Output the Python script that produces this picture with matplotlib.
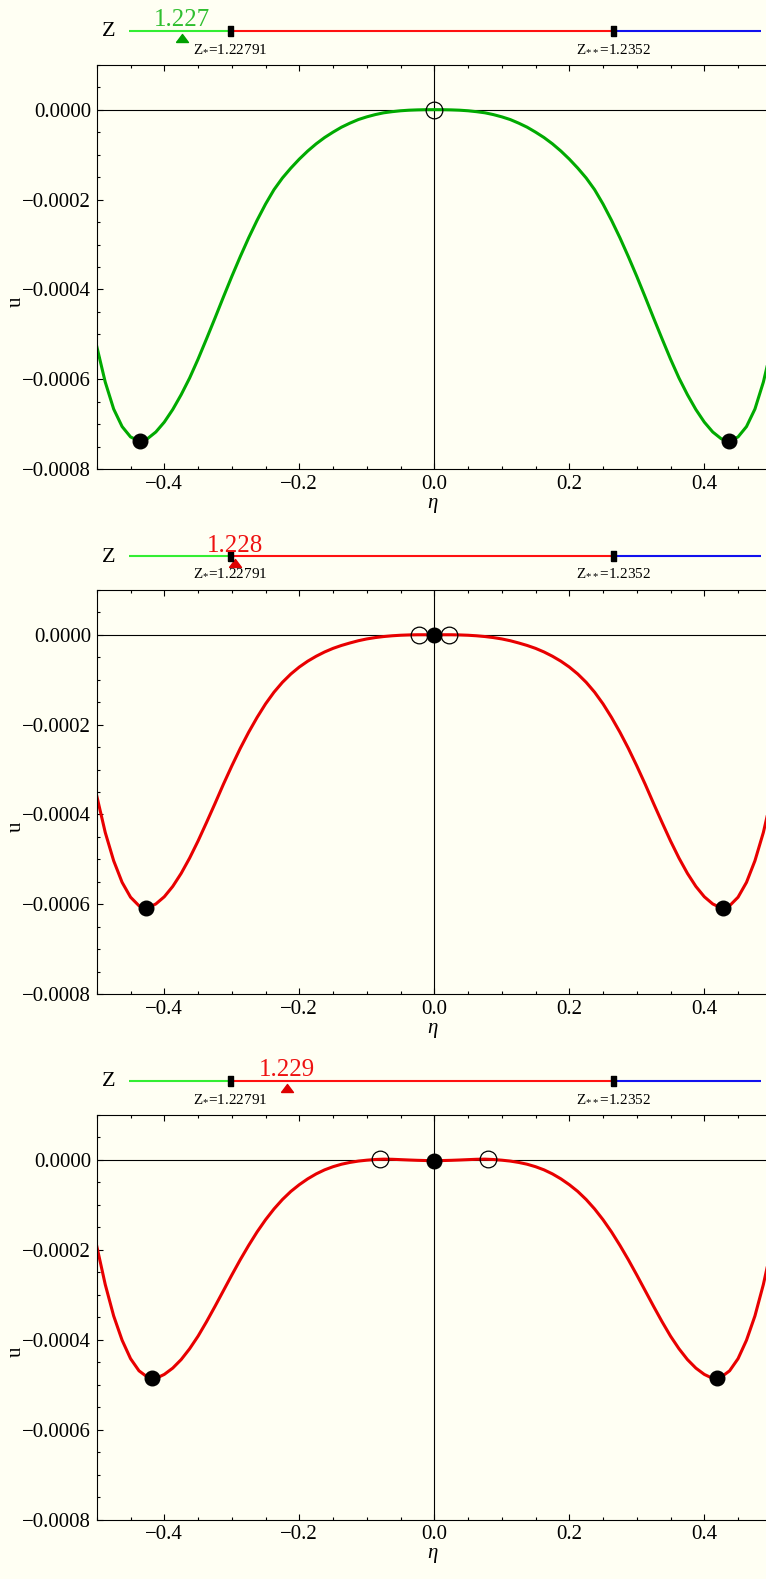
import matplotlib
matplotlib.use('Agg')
import matplotlib.pyplot as plt
from matplotlib.ticker import MultipleLocator

plt.rcParams['font.family'] = ['Liberation Serif', 'DejaVu Serif']
plt.rcParams['mathtext.fontset'] = 'custom'
plt.rcParams['mathtext.rm'] = 'Liberation Serif'
plt.rcParams['mathtext.it'] = 'Liberation Serif:italic'
plt.rcParams['axes.unicode_minus'] = True

# ---------------- data ----------------
z_values = [1.227, 1.228, 1.229]
z_labels = ['1.227', '1.228', '1.229']
z_min, z_max = 1.226, 1.238
z_star, z_2star = 1.22791, 1.2352
z_star_label = r'$\mathrm{Z}_{*}$=1.22791'
z_2star_label = r'$\mathrm{Z}_{**}$=1.2352'

# u values are given in units of 1e-4
x_ticks = [-0.4, -0.2, 0.0, 0.2, 0.4]
x_ticklabels = ['\u22120.4', '\u22120.2', '0.0', '0.2', '0.4']
y_ticks = [0.0, -2.0, -4.0, -6.0, -8.0]
y_ticklabels = ['0.0000', '\u22120.0002', '\u22120.0004', '\u22120.0006', '\u22120.0008']

eta = [-0.5, -0.4875, -0.475, -0.4625, -0.45, -0.4375, -0.425, -0.4125, -0.4, -0.3875,
       -0.375, -0.3625, -0.35, -0.3375, -0.325, -0.3125, -0.3, -0.2875, -0.275, -0.2625,
       -0.25, -0.2375, -0.225, -0.2125, -0.2, -0.1875, -0.175, -0.1625, -0.15, -0.1375,
       -0.125, -0.1125, -0.1, -0.0875, -0.075, -0.0625, -0.05, -0.0375, -0.025, -0.0125,
       0.0,
       0.0125, 0.025, 0.0375, 0.05, 0.0625, 0.075, 0.0875, 0.1, 0.1125, 0.125,
       0.1375, 0.15, 0.1625, 0.175, 0.1875, 0.2, 0.2125, 0.225, 0.2375, 0.25,
       0.2625, 0.275, 0.2875, 0.3, 0.3125, 0.325, 0.3375, 0.35, 0.3625, 0.375,
       0.3875, 0.4, 0.4125, 0.425, 0.4375, 0.45, 0.4625, 0.475, 0.4875, 0.5]

# panel 1 : Z = 1.227
u1 = [-5.27, -6.06, -6.66, -7.05, -7.28, -7.37, -7.32, -7.17, -6.95, -6.67,
      -6.34, -5.97, -5.55, -5.10, -4.64, -4.17, -3.71, -3.27, -2.85, -2.46,
      -2.10, -1.78, -1.52, -1.30, -1.10, -0.92, -0.76, -0.62, -0.50, -0.39,
      -0.30, -0.22, -0.16, -0.11, -0.07, -0.045, -0.025, -0.012, -0.005, -0.001,
      0.0,
      -0.001, -0.005, -0.012, -0.025, -0.045, -0.07, -0.11, -0.16, -0.22, -0.30,
      -0.39, -0.50, -0.62, -0.76, -0.92, -1.10, -1.30, -1.52, -1.78, -2.10,
      -2.46, -2.85, -3.27, -3.71, -4.17, -4.64, -5.10, -5.55, -5.97, -6.34,
      -6.67, -6.95, -7.17, -7.32, -7.37, -7.28, -7.05, -6.66, -6.06, -5.27]
min_eta1 = [-0.436, 0.436]
min_u1 = [-7.37, -7.37]
max_eta1 = [0.0]
max_u1 = [0.0]

# panel 2 : Z = 1.228
u2 = [-3.59, -4.40, -5.03, -5.51, -5.84, -6.03, -6.08, -5.99, -5.83, -5.60,
      -5.31, -4.97, -4.59, -4.18, -3.76, -3.33, -2.92, -2.53, -2.17, -1.84,
      -1.54, -1.28, -1.06, -0.875, -0.72, -0.59, -0.48, -0.385, -0.305, -0.24,
      -0.185, -0.135, -0.095, -0.065, -0.042, -0.025, -0.013, -0.006, -0.002, -0.002,
      -0.004,
      -0.002, -0.002, -0.006, -0.013, -0.025, -0.042, -0.065, -0.095, -0.135, -0.185,
      -0.24, -0.305, -0.385, -0.48, -0.59, -0.72, -0.875, -1.06, -1.28, -1.54,
      -1.84, -2.17, -2.53, -2.92, -3.33, -3.76, -4.18, -4.59, -4.97, -5.31,
      -5.60, -5.83, -5.99, -6.08, -6.03, -5.84, -5.51, -5.03, -4.40, -3.59]
min_eta2 = [-0.4276, 0.0, 0.4276]
min_u2 = [-6.09, -0.004, -6.09]
max_eta2 = [-0.022, 0.022]
max_u2 = [0.0, 0.0]

# panel 3 : Z = 1.229
u3 = [-1.92, -2.77, -3.47, -4.01, -4.42, -4.69, -4.83, -4.86, -4.77, -4.63,
      -4.44, -4.20, -3.92, -3.60, -3.26, -2.91, -2.56, -2.22, -1.90, -1.60,
      -1.33, -1.09, -0.88, -0.70, -0.55, -0.42, -0.31, -0.22, -0.15, -0.095,
      -0.055, -0.025, -0.005, 0.01, 0.018, 0.015, 0.007, -0.001, -0.008, -0.013,
      -0.016,
      -0.013, -0.008, -0.001, 0.007, 0.015, 0.018, 0.01, -0.005, -0.025, -0.055,
      -0.095, -0.15, -0.22, -0.31, -0.42, -0.55, -0.70, -0.88, -1.09, -1.33,
      -1.60, -1.90, -2.22, -2.56, -2.91, -3.26, -3.60, -3.92, -4.20, -4.44,
      -4.63, -4.77, -4.86, -4.83, -4.69, -4.42, -4.01, -3.47, -2.77, -1.92]
min_eta3 = [-0.4182, 0.0, 0.4182]
min_u3 = [-4.86, -0.02, -4.86]
max_eta3 = [-0.08, 0.08]
max_u3 = [0.02, 0.02]

panels = [
    (u1, min_eta1, min_u1, max_eta1, max_u1, '#00aa00'),
    (u2, min_eta2, min_u2, max_eta2, max_u2, '#e80000'),
    (u3, min_eta3, min_u3, max_eta3, max_u3, '#e80000'),
]

seg_bounds = [z_min, z_star, z_2star, z_max]
seg_colors = ['#33ee33', '#ff1111', '#1111ee']

# ---------------- layout ----------------
W, H = 766, 1579
BG = '#FFFFF3'
fig = plt.figure(figsize=(W / 100, H / 100), dpi=100, facecolor=BG)

def fy(py):
    return 1 - py / H

ax_left, ax_w, ax_h = 96.8, 675.0, 404.6
panel_tops = [64.7, 589.7, 1115.0]
slider_y = [31.0, 556.0, 1081.0]
sl_left, sl_w = 129.3, 631.4

rect_marker = [(-0.5, -1), (0.5, -1), (0.5, 1), (-0.5, 1), (-0.5, -1)]
tri_marker = [(-1, -0.67), (1, -0.67), (0, 0.67), (-1, -0.67)]

for i, (u, mne, mnu, mxe, mxu, col) in enumerate(panels):
    top = panel_tops[i]
    ax = fig.add_axes([ax_left / W, fy(top + ax_h), ax_w / W, ax_h / H])
    ax.set_facecolor(BG)
    ax.set_xlim(-0.5, 0.5)
    ax.set_ylim(-8.0, 1.0)
    ax.axhline(0, color='black', lw=0.8, zorder=1)
    ax.axvline(0, color='black', lw=0.8, zorder=1)
    ax.plot(eta, u, color=col, lw=2.2, zorder=2, solid_joinstyle='round')
    ax.plot(mne, mnu, 'o', color='black', ms=10.5, zorder=4)
    ax.plot(mxe, mxu, 'o', mfc='none', mec='black', mew=0.9, ms=12, zorder=4)

    ax.set_xticks(x_ticks)
    ax.set_xticklabels(x_ticklabels)
    ax.set_yticks(y_ticks)
    ax.set_yticklabels(y_ticklabels)
    ax.xaxis.set_minor_locator(MultipleLocator(0.05))
    ax.yaxis.set_minor_locator(MultipleLocator(0.5))
    ax.tick_params(which='both', direction='in', top=True, right=True,
                   width=0.8, labelsize=15, pad=4, colors='black')
    ax.tick_params(which='major', length=4.3)
    ax.tick_params(which='minor', length=2.5)
    for s in ax.spines.values():
        s.set_linewidth(0.8)
        s.set_color('black')

    fig.text(432 / W, fy(top + 438.8), '\u03b7', ha='center', va='center',
             fontsize=15, style='italic')
    fig.text(16.5 / W, fy(top + 237), 'u', ha='center', va='center',
             fontsize=15, rotation=90)

    # slider
    sy = slider_y[i]
    sa = fig.add_axes([sl_left / W, fy(sy + 30), sl_w / W, 60 / H])
    sa.set_xlim(z_min, z_max)
    sa.set_ylim(-30, 30)
    sa.axis('off')
    for k in range(3):
        sa.plot([seg_bounds[k], seg_bounds[k + 1]], [0, 0], color=seg_colors[k],
                lw=1.5, solid_capstyle='butt', zorder=1)
    z = z_values[i]
    vcol = '#2fbf2f' if z < z_star else '#ee1111'
    tcol = '#00a000' if z < z_star else '#dd0000'
    sa.plot([z], [-6.5], marker=tri_marker, color=tcol, ms=8.6, ls='none', zorder=2)
    sa.plot([z_star, z_2star], [0, 0], marker=rect_marker, color='black', ms=7.2,
            ls='none', zorder=3)
    sa.text(z, 4.5, z_labels[i], ha='center', va='baseline', fontsize=18, color=vcol,
            clip_on=False)
    sa.text(z_star, -17, z_star_label, ha='center', va='center', fontsize=11, clip_on=False)
    sa.text(z_2star, -17, z_2star_label, ha='center', va='center', fontsize=11, clip_on=False)
    fig.text(108.5 / W, fy(sy + 1), 'Z', ha='center', va='center', fontsize=16)

fig.savefig('out.png', dpi=100, facecolor=BG)
